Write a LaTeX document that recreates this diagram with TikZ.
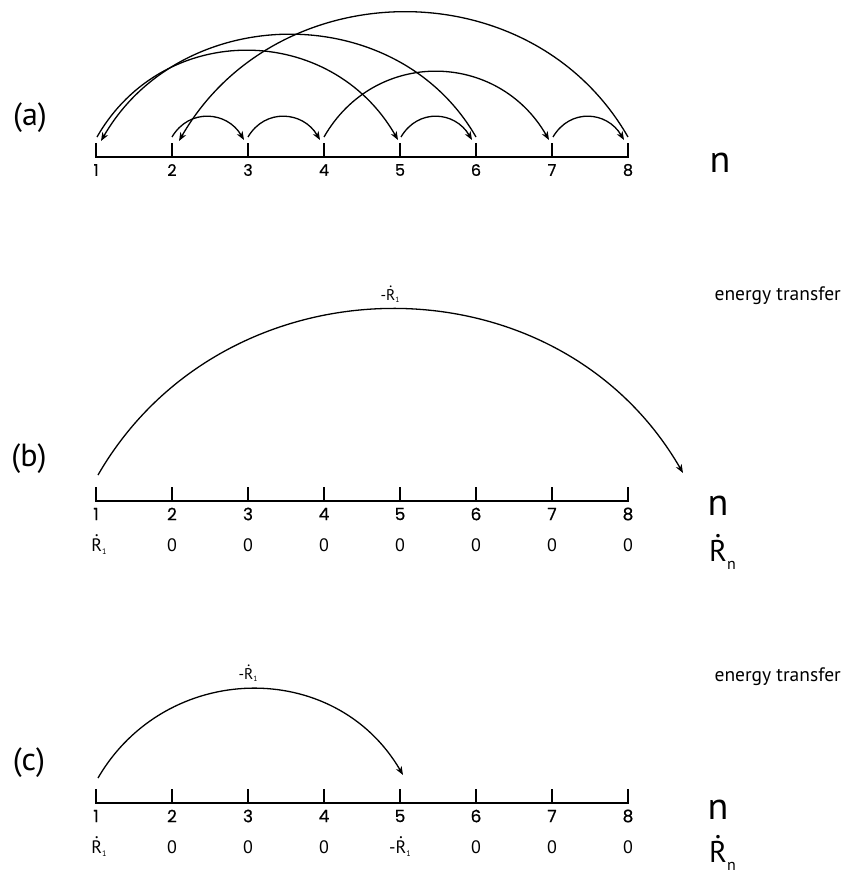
\documentclass[tikz,border=0pt]{standalone}
\usepackage{fontspec}
\setmainfont{PT Sans}
\newfontfamily\numfont{Poppins}[FakeBold=0.6]
\usetikzlibrary{arrows.meta}
\newcommand\Rdot{\leavevmode\setbox0\hbox{R}\rlap{\hbox to\wd0{\hss\raisebox{1.12\ht0}{.}\hss}}\box0}
\newcommand\Rs[3]{\Rdot\raisebox{-#3}{\fontsize{#2}{#2}\selectfont #1}}
\begin{document}
\begin{tikzpicture}[x=1pt,y=-1pt,
  axisline/.style={line width=1.6pt},
  arcline/.style={line width=1.3pt,-{Stealth[length=8.5pt,width=6.5pt,inset=2.5pt]}},
  numA/.style={font=\numfont\fontsize{16}{16}\selectfont,inner sep=0pt},
  numB/.style={font=\numfont\fontsize{17}{17}\selectfont,inner sep=0pt},
  rowlab/.style={font=\fontsize{18}{18}\selectfont,inner sep=0pt,anchor=base},
  arclab/.style={font=\fontsize{15.5}{15.5}\selectfont,inner sep=0pt,anchor=base},
  panellab/.style={font=\fontsize{32}{32}\selectfont,inner sep=0pt},
  nlab/.style={font=\fontsize{38}{38}\selectfont,inner sep=0pt},
  rnlab/.style={font=\fontsize{30}{30}\selectfont,inner sep=0pt,anchor=base west},
  etlab/.style={font=\fontsize{19.5}{19.5}\selectfont,inner sep=0pt,anchor=base east}]
\useasboundingbox (0,0) rectangle (843,875);

% ---------------- panel (a)
\node[panellab] (la) at (30,118) {(a)};
\foreach \i in {1,...,8}{
  \coordinate (a\i) at ({96+76*(\i-1)},157);
  \coordinate (at\i) at ({96+76*(\i-1)},143);
  \node[numA] (na\i) at ({96+76*(\i-1)},170) {\i};
}
\draw[axisline] (at1) -- (a1) -- (a8) -- (at8);
\foreach \i in {2,...,7}{\draw[axisline] (a\i) -- (at\i);}
\node[nlab] (nA) at (720,163) {n};

% arc start / end points
\coordinate (sA1) at (97,137);
\coordinate (sA2) at (172,137);
\coordinate (sA3) at (248,137);
\coordinate (sA4) at (324,137);
\coordinate (sA5) at (401,137);
\coordinate (sA6) at (476,137);
\coordinate (sA7) at (553,137);
\coordinate (sA8) at (628,137);
\coordinate (eA1) at (101,141);
\coordinate (eA2) at (179,141);
\coordinate (eA3) at (244,140);
\coordinate (eA4) at (320,140);
\coordinate (eA5) at (398,140);
\coordinate (eA6) at (472,140);
\coordinate (eA7) at (549,140);
\coordinate (eA8) at (624,140);

\draw[arcline] (sA1) .. controls +(67,-117) and +(-67,-117) .. (eA5);
\draw[arcline] (sA6) .. controls +(-80,-139) and +(80,-139) .. (eA1);
\draw[arcline] (sA8) .. controls +(-97,-169) and +(97,-169) .. (eA2);
\draw[arcline] (sA4) .. controls +(51,-89) and +(-51,-89) .. (eA7);
\draw[arcline] (sA2) .. controls +(17,-29) and +(-17,-29) .. (eA3);
\draw[arcline] (sA3) .. controls +(17,-29) and +(-17,-29) .. (eA4);
\draw[arcline] (sA5) .. controls +(17,-29) and +(-17,-29) .. (eA6);
\draw[arcline] (sA7) .. controls +(17,-29) and +(-17,-29) .. (eA8);

% ---------------- panel (b)
\node[panellab] (lb) at (29,459) {(b)};
\foreach \i in {1,...,8}{
  \coordinate (b\i) at ({96+76*(\i-1)},501);
  \coordinate (bt\i) at ({96+76*(\i-1)},487);
  \node[numB] (nb\i) at ({96+76*(\i-1)},514) {\i};
}
\draw[axisline] (bt1) -- (b1) -- (b8) -- (bt8);
\foreach \i in {2,...,7}{\draw[axisline] (b\i) -- (bt\i);}
\node[rowlab] (rb1) at (99,551) {\Rs{1}{8}{3pt}};
\foreach \i in {2,...,8}{
  \node[rowlab] (rb\i) at ({96+76*(\i-1)},551) {0};
}
\coordinate (sB) at (98,475);
\coordinate (eB) at (683,473);
\draw[arcline] (sB) .. controls +(127,-220) and +(-127,-220) .. (eB);
\node[arclab] (lblB) at (390,300) {-\Rs{1}{7.5}{2.5pt}};
\node[etlab] (etB) at (841,300) {energy transfer};
\node[nlab] (nB) at (718,506) {n};
\node[rnlab] (rnB) at (709,561) {\Rs{n}{16}{8pt}};

% ---------------- panel (c)
\node[panellab] (lc) at (29,763) {(c)};
\foreach \i in {1,...,8}{
  \coordinate (c\i) at ({96+76*(\i-1)},803);
  \coordinate (ct\i) at ({96+76*(\i-1)},789);
  \node[numB] (nc\i) at ({96+76*(\i-1)},816) {\i};
}
\draw[axisline] (ct1) -- (c1) -- (c8) -- (ct8);
\foreach \i in {2,...,7}{\draw[axisline] (c\i) -- (ct\i);}
\node[rowlab] (rc1) at (99,853) {\Rs{1}{8}{3pt}};
\foreach \i in {2,3,4,6,7,8}{
  \node[rowlab] (rc\i) at ({96+76*(\i-1)},853) {0};
}
\node[rowlab] (rc5) at (400,853) {-\Rs{1}{8}{3pt}};
\coordinate (sC) at (98,778);
\coordinate (eC) at (403,775);
\draw[arcline] (sC) .. controls +(68,-117) and +(-68,-117) .. (eC);
\node[arclab] (lblC) at (248,679) {-\Rs{1}{7.5}{2.5pt}};
\node[etlab] (etC) at (841,681) {energy transfer};
\node[nlab] (nC) at (718,810) {n};
\node[rnlab] (rnC) at (709,862) {\Rs{n}{16}{8pt}};
\end{tikzpicture}
\end{document}
